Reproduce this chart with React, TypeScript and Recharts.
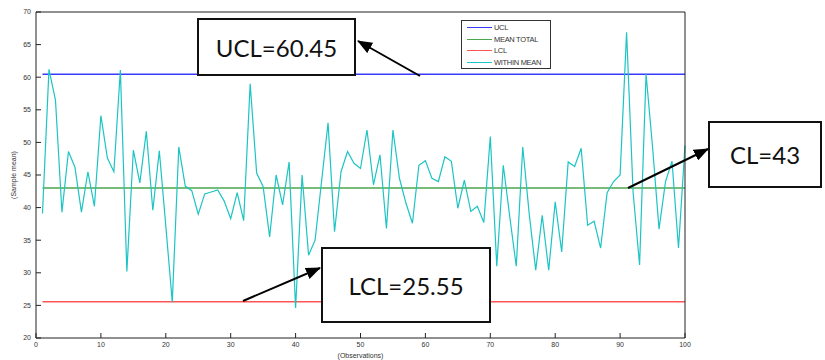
import { LineChart, Line, XAxis, YAxis, Legend, Label } from "recharts";

// within-subgroup sample means, observations 1..100
const WITHIN_MEAN = [
  39.1, 61.2, 56.5, 39.3, 48.6, 46.2, 39.3, 45.5, 40.2, 54.1,
  47.6, 45.5, 61.1, 30.2, 48.8, 43.8, 51.7, 39.6, 48.7, 37.2,
  25.5, 49.3, 43.3, 42.6, 39.0, 42.1, 42.4, 42.7, 41.0, 38.3,
  42.3, 38.0, 59.0, 45.3, 43.2, 35.5, 45.0, 40.4, 47.0, 24.6,
  45.0, 32.7, 35.0, 44.0, 53.0, 36.3, 45.5, 48.6, 46.8, 46.0,
  51.9, 43.5, 48.1, 36.8, 51.9, 44.5, 40.7, 37.6, 46.5, 47.2,
  44.5, 44.0, 47.8, 47.1, 39.9, 44.2, 39.4, 40.2, 37.7, 50.9,
  31.0, 46.5, 38.6, 31.0, 49.3, 39.0, 30.4, 38.8, 30.4, 40.9,
  33.2, 47.0, 46.3, 49.1, 37.3, 37.9, 33.8, 42.3, 44.0, 45.0,
  66.9, 42.4, 31.2, 60.5, 49.3, 36.7, 44.0, 47.1, 33.8, 49.5,
];
const UCL = 60.45;
const CL = 43;
const LCL = 25.55;

const SERIES_NAMES = ["UCL", "MEAN TOTAL", "LCL", "WITHIN MEAN"];
const X_TICKS = [0, 10, 20, 30, 40, 50, 60, 70, 80, 90, 100];
const Y_TICKS = [20, 25, 30, 35, 40, 45, 50, 55, 60, 65, 70];

const rows = WITHIN_MEAN.map((v, i) => ({
  obs: i + 1,
  within: v,
  ucl: UCL,
  mean: CL,
  lcl: LCL,
}));

// callout boxes and their arrows (page pixels)
const callouts = [
  { text: "UCL=60.45", left: 197, top: 18, width: 159, height: 58 },
  { text: "LCL=25.55", left: 321, top: 247, width: 170, height: 76 },
  { text: "CL=43", left: 708, top: 121, width: 114, height: 67 },
];
const arrows = [
  { x1: 420, y1: 76, x2: 358, y2: 41 },
  { x1: 243, y1: 301, x2: 320, y2: 268 },
  { x1: 628, y1: 188, x2: 708, y2: 149 },
];

const tickFont = { fontFamily: "Liberation Sans, Arial, sans-serif", fontSize: 7, fill: "#333" };
const frame = { stroke: "#222" };

const LegendBox = ({ payload }: any) => {
  const items = [...(payload || [])].sort(
    (a: any, b: any) => SERIES_NAMES.indexOf(a.value) - SERIES_NAMES.indexOf(b.value)
  );
  return (
    <div
      style={{
        border: "1px solid #333",
        background: "#fff",
        padding: "1px 6px 3px 5px",
        fontFamily: "Liberation Sans, Arial, sans-serif",
        fontSize: 7.5,
        color: "#333",
        width: 90,
        height: 49,
        boxSizing: "border-box",
      }}
    >
      {items.map((entry: any, i: number) => (
        <div key={i} style={{ display: "flex", alignItems: "center", height: 11.5 }}>
          <div style={{ width: 25, height: 0, borderTop: `1.3px solid ${entry.color}`, marginRight: 2 }} />
          <span style={{ whiteSpace: "nowrap", letterSpacing: -0.3 }}>{entry.value}</span>
        </div>
      ))}
    </div>
  );
};

export default function App() {
  return (
    <div style={{ position: "absolute", left: 0, top: 0, width: 825, height: 360, background: "#fff" }}>
      <LineChart
        width={825}
        height={360}
        data={rows}
        margin={{ top: 11, right: 139, left: 0, bottom: 0 }}
      >
        <XAxis
          dataKey="obs"
          type="number"
          domain={[0, 100]}
          ticks={X_TICKS}
          height={22}
          tickSize={-5}
          tickMargin={9}
          tick={tickFont}
          axisLine={frame}
          tickLine={frame}
        >
          <Label
            value="(Observations)"
            position="insideBottom"
            offset={2}
            style={{ fontFamily: "Liberation Sans, Arial, sans-serif", fontSize: 7, fill: "#333" }}
          />
        </XAxis>
        <XAxis
          xAxisId="top"
          orientation="top"
          dataKey="obs"
          type="number"
          domain={[0, 100]}
          ticks={X_TICKS}
          height={1}
          tickSize={-5}
          tick={false}
          axisLine={frame}
          tickLine={frame}
        />
        <YAxis
          domain={[20, 70]}
          ticks={Y_TICKS}
          width={36}
          tickSize={-5}
          tickMargin={10}
          tick={tickFont}
          axisLine={frame}
          tickLine={frame}
        >
          <Label
            value="(Sample mean)"
            angle={-90}
            position="insideLeft"
            offset={14}
            style={{ textAnchor: "middle", fontFamily: "Liberation Sans, Arial, sans-serif", fontSize: 7, fill: "#333" }}
          />
        </YAxis>
        <YAxis
          yAxisId="right"
          orientation="right"
          domain={[20, 70]}
          ticks={Y_TICKS}
          width={1}
          tickSize={-5}
          tick={false}
          axisLine={frame}
          tickLine={frame}
        />
        <Legend
          layout="vertical"
          align="center"
          verticalAlign="middle"
          wrapperStyle={{ left: 461, top: 20, width: 90, height: 49 }}
          content={<LegendBox />}
        />
        <Line dataKey="ucl" name="UCL" stroke="#3a3aff" strokeWidth={1.5} dot={false} isAnimationActive={false} legendType="line" />
        <Line dataKey="mean" name="MEAN TOTAL" stroke="#4ca64c" strokeWidth={1.5} dot={false} isAnimationActive={false} legendType="line" />
        <Line dataKey="lcl" name="LCL" stroke="#ff5555" strokeWidth={1.5} dot={false} isAnimationActive={false} legendType="line" />
        <Line dataKey="within" name="WITHIN MEAN" stroke="#1cc4c4" strokeWidth={1.2} dot={false} isAnimationActive={false} legendType="line" />
      </LineChart>

      {callouts.map((c) => (
        <div
          key={c.text}
          style={{
            position: "absolute",
            left: c.left,
            top: c.top,
            width: c.width,
            height: c.height,
            boxSizing: "border-box",
            border: "2px solid #111",
            background: "#fff",
            display: "flex",
            alignItems: "center",
            justifyContent: "center",
            fontFamily: "Lato, 'Open Sans', sans-serif",
            fontSize: 24,
            color: "#111",
          }}
        >
          {c.text}
        </div>
      ))}

      <svg width={825} height={360} style={{ position: "absolute", left: 0, top: 0, pointerEvents: "none" }}>
        <defs>
          <marker
            id="head"
            viewBox="0 0 15 12"
            refX="14"
            refY="6"
            markerWidth="15"
            markerHeight="12"
            markerUnits="userSpaceOnUse"
            orient="auto"
          >
            <path d="M0,0 L15,6 L0,12 z" fill="#000" />
          </marker>
        </defs>
        {arrows.map((a, i) => (
          <line key={i} x1={a.x1} y1={a.y1} x2={a.x2} y2={a.y2} stroke="#000" strokeWidth={2} markerEnd="url(#head)" />
        ))}
      </svg>
    </div>
  );
}
